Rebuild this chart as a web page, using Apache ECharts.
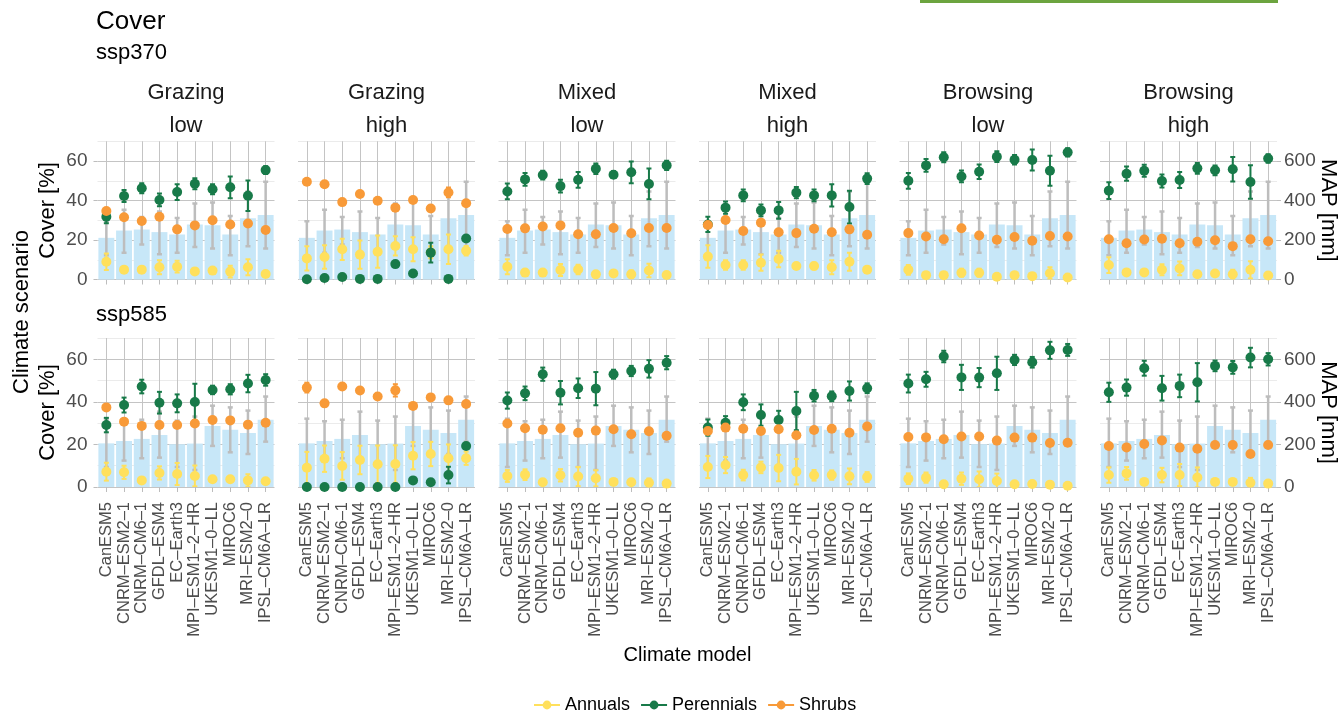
<!DOCTYPE html>
<html>
<head>
<meta charset="utf-8">
<script src="https://cdn.jsdelivr.net/npm/echarts@6/dist/echarts.min.js"></script>
<style>
  html, body { margin: 0; padding: 0; background: #fff; }
  #chart { width: 1341px; height: 710px; }
</style>
</head>
<body>
<div id="chart"></div>
<script>
// categories / facets
var models = ['CanESM5', 'CNRM–ESM2–1', 'CNRM–CM6–1', 'GFDL–ESM4', 'EC–Earth3',
  'MPI–ESM1–2–HR', 'UKESM1–0–LL', 'MIROC6', 'MRI–ESM2–0', 'IPSL–CM6A–LR'];
var facetTop = ['Grazing', 'Grazing', 'Mixed', 'Mixed', 'Browsing', 'Browsing'];
var facetBottom = ['low', 'high', 'low', 'high', 'low', 'high'];
var scenarios = ['ssp370', 'ssp585'];
var coverTicks = [0, 20, 40, 60];
var mapTicks = [0, 200, 400, 600];

// MAP (mm) per model, mean and error bar ends
var mapMean370 = [211, 248, 253, 240, 228, 278, 275, 228, 310, 327];
var mapLow370 = [123, 135, 177, 128, 135, 165, 157, 123, 169, 157];
var mapHigh370 = [295, 353, 316, 344, 312, 385, 390, 322, 446, 495];
var mapMean585 = [205, 216, 226, 244, 201, 204, 287, 269, 254, 316];
var mapLow585 = [94, 124, 135, 138, 94, 80, 193, 163, 155, 213];
var mapHigh585 = [321, 309, 316, 354, 312, 331, 382, 374, 359, 425];

// cover (%) per facet (rows) and model (cols)
var annuals370 = [
  [9.0, 5.0, 5.0, 6.2, 6.5, 4.1, 4.5, 4.0, 6.2, 2.8],
  [10.7, 11.4, 15.3, 12.6, 14.1, 17.0, 15.3, 13.8, 15.3, 14.6],
  [6.5, 3.5, 3.5, 4.8, 5.1, 2.6, 3.1, 2.6, 4.6, 2.3],
  [11.6, 7.3, 7.3, 8.5, 10.4, 6.8, 6.8, 6.2, 9.0, 5.0],
  [4.9, 2.2, 2.2, 3.4, 3.4, 1.4, 2.2, 1.7, 3.2, 1.0],
  [7.3, 3.6, 3.6, 4.9, 5.6, 2.7, 3.0, 2.7, 4.9, 2.0]
];
var annualsSd370 = [
  [4.2, 1.0, 1.0, 3.6, 3.0, 1.0, 1.5, 3.0, 4.0, 0.5],
  [6.2, 5.9, 5.4, 7.2, 8.2, 4.9, 6.1, 3.0, 7.5, 2.4],
  [3.8, 1.0, 1.0, 3.0, 2.4, 1.0, 1.0, 2.0, 3.4, 0.8],
  [5.7, 2.4, 2.4, 4.1, 4.2, 1.5, 1.7, 3.6, 4.6, 1.0],
  [2.5, 0.8, 0.8, 2.0, 2.0, 0.8, 0.8, 0.8, 3.0, 0.8],
  [4.0, 1.0, 1.0, 2.8, 3.5, 1.0, 1.0, 2.3, 4.4, 1.0]
];
var perennials370 = [
  [31.8, 42.3, 46.2, 40.3, 44.3, 48.5, 45.7, 46.7, 42.4, 55.4],
  [0.1, 0.8, 1.3, 0.3, 0.3, 7.8, 3.0, 13.6, 0.3, 20.8],
  [44.6, 50.7, 52.9, 47.3, 50.5, 56.1, 53.1, 54.3, 48.4, 57.8],
  [27.9, 36.4, 42.6, 35.0, 35.0, 44.0, 42.6, 42.6, 36.7, 51.1],
  [50.0, 57.8, 61.9, 52.2, 54.6, 62.2, 60.7, 60.5, 55.1, 64.4],
  [45.0, 53.6, 55.1, 49.9, 50.4, 56.3, 55.3, 55.8, 49.4, 61.3]
];
var perennialsSd370 = [
  [3.3, 3.0, 2.5, 3.2, 4.0, 2.8, 2.5, 5.5, 7.7, 2.0],
  [0.3, 0.5, 0.5, 0.3, 0.3, 1.3, 0.8, 5.0, 0.3, 1.0],
  [4.0, 3.2, 2.2, 3.2, 4.0, 2.7, 1.7, 5.5, 7.8, 2.4],
  [3.9, 3.1, 3.0, 3.0, 4.2, 2.8, 3.0, 5.6, 8.3, 2.7],
  [4.0, 3.2, 2.5, 3.0, 3.7, 2.7, 2.4, 5.3, 7.6, 2.1],
  [4.2, 3.6, 3.0, 3.3, 4.0, 2.7, 2.5, 6.2, 8.5, 2.2]
];
var shrubs370 = [
  [34.7, 31.5, 29.6, 31.8, 25.4, 27.4, 30.0, 27.9, 28.4, 25.1],
  [49.5, 48.2, 39.2, 43.3, 39.9, 36.4, 40.3, 36.0, 44.1, 38.6],
  [25.6, 25.9, 26.8, 27.4, 22.9, 22.9, 26.1, 23.4, 26.1, 26.1],
  [27.6, 30.1, 24.6, 28.8, 23.9, 23.5, 25.7, 23.9, 25.4, 22.7],
  [23.5, 21.8, 20.4, 26.0, 22.3, 20.1, 21.5, 19.6, 22.0, 21.8],
  [20.4, 18.4, 20.3, 20.6, 18.4, 19.1, 19.9, 16.9, 20.4, 19.4]
];
var shrubsSd370 = [
  [1.2, 0.8, 0.8, 0.8, 0.8, 0.8, 0.8, 0.8, 0.8, 0.8],
  [1.0, 1.0, 0.8, 0.8, 0.8, 0.8, 0.8, 0.8, 2.5, 0.8],
  [0.8, 0.8, 0.8, 0.8, 0.8, 0.8, 0.8, 0.8, 0.8, 0.8],
  [0.8, 0.8, 0.8, 0.8, 0.8, 0.8, 0.8, 0.8, 0.8, 0.8],
  [0.8, 0.8, 0.8, 0.8, 0.8, 0.8, 0.8, 0.8, 0.8, 0.8],
  [0.8, 0.8, 0.8, 0.8, 0.8, 0.8, 0.8, 0.8, 0.8, 0.8]
];

var annuals585 = [
  [7.2, 6.9, 3.1, 6.6, 6.1, 5.2, 3.6, 3.6, 3.1, 2.7],
  [9.1, 13.3, 9.9, 12.7, 10.7, 10.8, 14.7, 15.5, 13.5, 13.5],
  [5.2, 5.8, 2.2, 5.5, 4.9, 4.1, 2.4, 2.2, 2.0, 1.6],
  [9.4, 10.3, 5.6, 9.2, 8.9, 7.2, 5.5, 5.6, 5.0, 4.7],
  [3.9, 4.4, 1.3, 3.9, 3.6, 2.8, 1.3, 1.4, 1.1, 0.6],
  [5.6, 6.4, 2.4, 5.6, 5.6, 4.5, 2.4, 2.4, 2.0, 1.6]
];
var annualsSd585 = [
  [4.2, 3.1, 1.0, 3.1, 5.2, 4.9, 1.0, 1.0, 2.9, 0.8],
  [7.4, 6.2, 6.5, 6.7, 8.8, 8.8, 6.4, 5.7, 6.5, 3.1],
  [2.8, 2.5, 0.8, 2.9, 4.5, 3.8, 0.8, 0.8, 2.0, 0.8],
  [5.2, 3.8, 2.5, 2.7, 6.2, 6.0, 2.5, 2.2, 3.7, 2.3],
  [2.5, 2.4, 0.8, 2.9, 3.7, 3.5, 0.8, 0.8, 0.8, 0.8],
  [3.6, 3.0, 0.8, 3.4, 5.2, 4.7, 0.8, 0.8, 2.3, 0.8]
];
var perennials585 = [
  [29.1, 38.5, 47.2, 39.6, 39.3, 39.9, 45.6, 45.9, 48.6, 50.3],
  [0.0, 0.0, 0.0, 0.0, 0.0, 0.0, 3.1, 2.2, 5.6, 19.3],
  [40.6, 44.0, 53.0, 44.3, 46.4, 46.2, 53.0, 54.5, 55.5, 58.4],
  [27.9, 30.2, 39.8, 33.8, 31.5, 35.7, 42.9, 42.6, 45.1, 46.4],
  [48.6, 50.6, 61.3, 51.5, 51.4, 53.4, 59.7, 58.6, 64.2, 64.4],
  [44.5, 46.7, 55.8, 46.4, 47.5, 49.2, 56.9, 56.2, 60.8, 60.0]
];
var perennialsSd585 = [
  [3.4, 3.5, 3.2, 5.1, 4.2, 8.6, 2.0, 2.4, 4.1, 2.7],
  [0.2, 0.2, 0.2, 0.2, 0.2, 0.2, 0.5, 0.5, 3.9, 1.0],
  [3.8, 3.2, 3.1, 5.5, 4.6, 7.8, 2.1, 2.4, 4.1, 3.1],
  [3.8, 3.1, 3.7, 5.0, 4.3, 9.0, 2.7, 2.3, 4.5, 2.3],
  [4.2, 3.5, 2.7, 5.9, 4.5, 7.8, 2.4, 2.5, 4.0, 2.8],
  [4.5, 3.8, 3.5, 5.8, 5.3, 9.0, 2.5, 3.0, 4.6, 2.9]
];
var shrubs585 = [
  [37.4, 30.7, 28.7, 29.1, 29.1, 29.8, 31.5, 31.3, 29.3, 30.2],
  [46.7, 39.3, 47.2, 45.3, 42.5, 45.4, 38.1, 42.1, 40.7, 39.0],
  [29.8, 27.6, 26.9, 27.6, 25.5, 26.5, 27.1, 24.8, 26.2, 24.1],
  [26.3, 27.9, 27.4, 26.3, 27.1, 24.3, 26.8, 27.4, 25.5, 28.4],
  [23.5, 23.3, 22.4, 23.7, 23.7, 21.8, 23.2, 23.2, 20.7, 20.8],
  [19.3, 18.6, 20.2, 21.9, 18.5, 18.0, 19.7, 19.7, 15.5, 19.7]
];
var shrubsSd585 = [
  [0.8, 0.8, 0.8, 0.8, 0.8, 0.8, 0.8, 0.8, 0.8, 0.8],
  [2.3, 0.8, 0.8, 0.8, 0.8, 2.9, 0.8, 0.8, 0.8, 0.8],
  [0.8, 0.8, 0.8, 0.8, 0.8, 0.8, 0.8, 0.8, 0.8, 0.8],
  [0.8, 0.8, 0.8, 0.8, 0.8, 0.8, 0.8, 0.8, 0.8, 0.8],
  [0.8, 0.8, 0.8, 0.8, 0.8, 0.8, 0.8, 0.8, 0.8, 0.8],
  [0.8, 0.8, 0.8, 0.8, 0.8, 0.8, 0.8, 0.8, 0.8, 0.8]
];

var FONT = "'Liberation Sans', Arial, sans-serif";
var AXIS_GREY = '#4d4d4d';
var groups = [
  { name: 'Annuals', color: '#ffe05c', mean: [annuals370, annuals585], sd: [annualsSd370, annualsSd585] },
  { name: 'Perennials', color: '#187a49', mean: [perennials370, perennials585], sd: [perennialsSd370, perennialsSd585] },
  { name: 'Shrubs', color: '#f89a38', mean: [shrubs370, shrubs585], sd: [shrubsSd370, shrubsSd585] }
];
var mapByRow = [
  { mean: mapMean370, lo: mapLow370, hi: mapHigh370 },
  { mean: mapMean585, lo: mapLow585, hi: mapHigh585 }
];

// panel geometry
var colLeft = function (c) { return 97.5 + c * 200.5; };
var PANEL_W = 177;
var rowTop = [141.3, 338];
var rowH = [138.2, 149];

function errorBars(color, lw, cap) {
  return function (params, api) {
    var x = api.value(0);
    var lo = api.coord([x, api.value(1)]);
    var hi = api.coord([x, api.value(2)]);
    var st = { stroke: color, lineWidth: lw };
    return {
      type: 'group',
      children: [
        { type: 'line', shape: { x1: lo[0], y1: lo[1], x2: hi[0], y2: hi[1] }, style: st },
        { type: 'line', shape: { x1: lo[0] - cap, y1: lo[1], x2: lo[0] + cap, y2: lo[1] }, style: st },
        { type: 'line', shape: { x1: hi[0] - cap, y1: hi[1], x2: hi[0] + cap, y2: hi[1] }, style: st }
      ]
    };
  };
}

var grids = [], xAxes = [], yAxes = [], series = [], graphics = [];

for (var r = 0; r < 2; r++) {
  for (var c = 0; c < 6; c++) {
    var g = grids.length;
    grids.push({ left: colLeft(c), top: rowTop[r], width: PANEL_W, height: rowH[r], outerBoundsMode: 'none' });

    xAxes.push({
      type: 'category', gridIndex: g, data: models,
      axisLine: { show: false },
      axisTick: { show: true, alignWithLabel: true, interval: 0, length: 5, lineStyle: { color: '#bdbdbd', width: 1 } },
      splitLine: { show: true, alignWithLabel: true, interval: 0, lineStyle: { color: '#c4c4c4', width: 1 } },
      axisLabel: {
        show: r === 1, interval: 0, rotate: 90, margin: 15,
        fontSize: 16.5, color: AXIS_GREY, fontFamily: FONT
      }
    });

    // cover axis (grid lines only)
    var coverIdx = yAxes.length;
    yAxes.push({
      type: 'value', gridIndex: g, position: 'left', min: 0, max: 70, interval: 10,
      axisLine: { show: false }, axisTick: { show: false }, axisLabel: { show: false },
      splitLine: { show: true, lineStyle: { color: ['#c4c4c4', '#ebebeb'], width: 1 } }
    });
    // MAP axis
    var mapIdx = yAxes.length;
    yAxes.push({
      type: 'value', gridIndex: g, position: 'right', min: 0, max: 700, interval: 100,
      axisLine: { show: false }, splitLine: { show: false },
      axisTick: { show: c === 5, customValues: mapTicks, length: 4, lineStyle: { color: '#bdbdbd' } },
      axisLabel: { show: c === 5, customValues: mapTicks, margin: 7, fontSize: 19, color: AXIS_GREY, fontFamily: FONT }
    });
    if (c === 0) {
      yAxes.push({
        type: 'value', gridIndex: g, position: 'left', min: 0, max: 70, interval: 10,
        axisLine: { show: false }, splitLine: { show: false },
        axisTick: { show: true, customValues: coverTicks, length: 4, lineStyle: { color: '#bdbdbd' } },
        axisLabel: { show: true, customValues: coverTicks, margin: 10, fontSize: 19, color: AXIS_GREY, fontFamily: FONT }
      });
    }

    var mp = mapByRow[r];
    series.push({
      type: 'bar', xAxisIndex: g, yAxisIndex: mapIdx, data: mp.mean, barWidth: '90%',
      itemStyle: { color: '#c7e7f8' }, silent: true, z: 1
    });
    series.push({
      type: 'custom', xAxisIndex: g, yAxisIndex: mapIdx, silent: true, z: 2, clip: true,
      renderItem: errorBars('#bdbdbd', 2.5, 2.5),
      encode: { x: 0, y: [1, 2] },
      data: mp.mean.map(function (v, i) { return [i, mp.lo[i], mp.hi[i]]; })
    });

    groups.forEach(function (grp, k) {
      var m = grp.mean[r][c], s = grp.sd[r][c];
      series.push({
        type: 'custom', xAxisIndex: g, yAxisIndex: coverIdx, silent: true, z: 3 + k, clip: true,
        renderItem: errorBars(grp.color, 2, 2.5),
        encode: { x: 0, y: [1, 2] },
        data: m.map(function (v, i) { return [i, v - s[i], v + s[i]]; })
      });
      series.push({
        name: grp.name, type: 'line', xAxisIndex: g, yAxisIndex: coverIdx, data: m,
        color: grp.color, symbol: 'circle', symbolSize: 10, showSymbol: true, clip: false,
        lineStyle: { width: 0, opacity: 0 }, itemStyle: { color: grp.color },
        silent: true, z: 3 + k
      });
    });

    if (r === 0) {
      var cx = colLeft(c) + PANEL_W / 2;
      graphics.push({ type: 'text', x: cx, y: 93, style: { text: facetTop[c], fontSize: 22, fontFamily: FONT, fill: '#1a1a1a', align: 'center', textAlign: 'center', verticalAlign: 'middle', textVerticalAlign: 'middle' } });
      graphics.push({ type: 'text', x: cx, y: 126, style: { text: facetBottom[c], fontSize: 22, fontFamily: FONT, fill: '#1a1a1a', align: 'center', textAlign: 'center', verticalAlign: 'middle', textVerticalAlign: 'middle' } });
    }
  }
}

function label(text, x, y, size, rot, color) {
  return {
    type: 'text', x: x, y: y, rotation: rot || 0,
    style: { text: text, fontSize: size, fontFamily: FONT, fill: color || '#000',
      align: 'center', textAlign: 'center', verticalAlign: 'middle', textVerticalAlign: 'middle' }
  };
}
function leftLabel(text, x, y, size) {
  return {
    type: 'text', x: x, y: y,
    style: { text: text, fontSize: size, fontFamily: FONT, fill: '#000',
      align: 'left', textAlign: 'left', verticalAlign: 'middle', textVerticalAlign: 'middle' }
  };
}

graphics.push({ type: 'rect', shape: { x: 920, y: 0, width: 358, height: 3 }, style: { fill: '#6ca43f' } });
graphics.push(leftLabel('Cover', 96, 22, 26));
graphics.push(leftLabel(scenarios[0], 96, 53, 22));
graphics.push(leftLabel(scenarios[1], 96, 315, 22));
var rowMid = [rowTop[0] + rowH[0] / 2, rowTop[1] + rowH[1] / 2];
graphics.push(label('Cover [%]', 48, rowMid[0], 22, Math.PI / 2));
graphics.push(label('Cover [%]', 48, rowMid[1], 22, Math.PI / 2));
graphics.push(label('MAP [mm]', 1328, rowMid[0], 22, -Math.PI / 2));
graphics.push(label('MAP [mm]', 1328, rowMid[1], 22, -Math.PI / 2));
graphics.push(label('Climate scenario', 22, 312, 22, Math.PI / 2));
graphics.push(label('Climate model', 687.5, 655, 20));

var chart = echarts.init(document.getElementById('chart'), null, { renderer: 'canvas' });
chart.setOption({
  animation: false,
  backgroundColor: '#fff',
  textStyle: { fontFamily: FONT },
  grid: grids,
  xAxis: xAxes,
  yAxis: yAxes,
  legend: {
    left: 528, top: 691, itemWidth: 26, itemHeight: 11, itemGap: 10,
    data: groups.map(function (g) { return g.name; }),
    textStyle: { fontSize: 18, color: '#000', fontFamily: FONT },
    lineStyle: { width: 2, opacity: 1 },
    selectedMode: false
  },
  graphic: graphics,
  series: series
});
</script>
</body>
</html>
